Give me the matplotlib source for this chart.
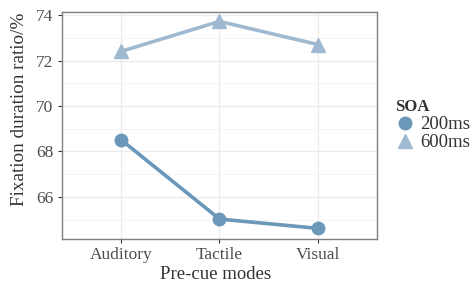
import numpy as np
import matplotlib.pyplot as plt
from matplotlib.lines import Line2D

modes = ["Auditory", "Tactile", "Visual"]
soa_200 = [68.52, 65.03, 64.62]
soa_600 = [72.40, 73.72, 72.70]
series_names = ["200ms", "600ms"]

plt.rcParams['font.family'] = ['Liberation Serif', 'DejaVu Serif']

fig = plt.figure(figsize=(4.72, 2.87), dpi=100)
ax = fig.add_axes([0.131, 0.167, 0.668, 0.791])

c200 = "#6b97b9"
c600 = "#9fbad0"
x = np.arange(1, len(modes) + 1)
ax.plot(x, soa_200, color=c200, lw=2.6, marker="o", ms=9, zorder=3)
ax.plot(x, soa_600, color=c600, lw=2.6, marker="^", ms=10, zorder=3)

ax.set_xlim(0.4, 3.6)
ax.set_ylim(64.15, 74.13)
ax.set_xticks(x)
ax.set_xticklabels(modes)
ax.set_yticks([66, 68, 70, 72, 74])
ax.set_yticks([65, 67, 69, 71, 73], minor=True)
ax.grid(True, which="major", color="#ebebeb", lw=0.9)
ax.grid(True, which="minor", axis="y", color="#f3f3f3", lw=0.6)
ax.set_axisbelow(True)
for s in ax.spines.values():
    s.set_color("#7f7f7f")
    s.set_linewidth(1.0)
ax.tick_params(which="major", length=3, color="#333333", labelsize=12.5, labelcolor="#4d4d4d", pad=3)
ax.tick_params(which="minor", length=0)
ax.set_xlabel("Pre-cue modes", fontsize=13.5, color="#333333")
ax.set_ylabel("Fixation duration ratio/%", fontsize=13.8, color="#333333")
ax.yaxis.set_label_coords(-0.108, 0.573)
ax.xaxis.set_label_coords(0.487, -0.118)

handles = [
    Line2D([], [], color=c200, marker="o", ms=9, lw=0),
    Line2D([], [], color=c600, marker="^", ms=10, lw=0),
]
leg = fig.legend(handles, series_names, title="SOA", loc="upper left",
                 bbox_to_anchor=(0.81, 0.70), frameon=False, fontsize=13.5,
                 handletextpad=0.3, labelspacing=0.05, borderpad=0.2,
                 handlelength=1.0, alignment="left")
leg.get_title().set_fontweight("bold")
leg.get_title().set_fontsize(12)
leg.get_title().set_color("#333333")
for t in leg.get_texts():
    t.set_color("#333333")

fig.savefig("out.png", dpi=100)
